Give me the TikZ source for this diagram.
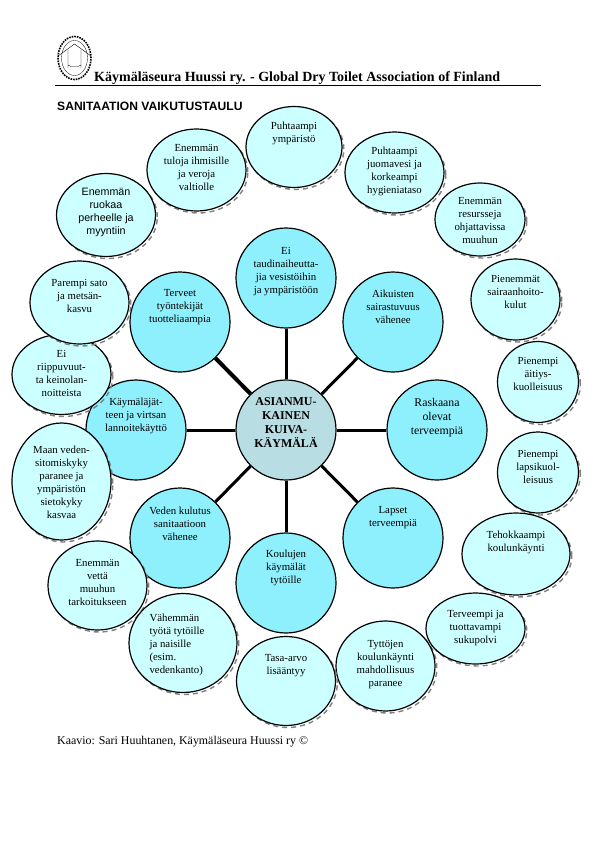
\documentclass[tikz,border=0pt]{standalone}
\usepackage{fontspec}
\setmainfont{Liberation Serif}
\setsansfont{Liberation Sans}
\usepackage{tikz}
\usetikzlibrary{positioning, shapes.geometric, shadows}
\usepackage{xcolor}
\definecolor{hubcol}{HTML}{B8DEE3}
\definecolor{innercol}{HTML}{8FF0FD}
\definecolor{outercol}{HTML}{CCFFFF}
\tikzset{
  inner/.style={circle, draw, line width=1.2pt, fill=innercol, minimum size=100pt, inner sep=0pt},
  outer/.style={ellipse, draw, line width=1.2pt, fill=outercol, inner sep=0pt,
    general shadow={shadow xshift=1.8pt, shadow yshift=-2pt, fill=none, draw=black!50, dash pattern=on 5pt off 4pt, line width=1.4pt}},
  lbl/.style={align=center, inner sep=0pt, outer sep=0pt, yshift=-2.5pt, font=\fontsize{10.8}{13}\selectfont},
  spoke/.style={line width=3pt}
}
\begin{document}
\begin{tikzpicture}[x=1pt, y=-1pt]
    \useasboundingbox (0,0) rectangle (595,842);
    % heading
    \node[ellipse, draw, line width=1.6pt, densely dotted, minimum width=33pt, minimum height=43pt, inner sep=0pt] (seal) at (74.5,58) {};
    \node[ellipse, draw, line width=.3pt, minimum width=26pt, minimum height=35pt, inner sep=0pt] (sealin) at (74.5,58) {};
    \draw[line width=.4pt] (58,56) -- (74.5,44) -- (91,56);
    \draw[line width=.4pt] (68,50) -- (68,68) (81,50) -- (81,68) (68,65) -- (71,66.5) -- (78,66.5) -- (81,65);
    \node[anchor=base west, inner sep=0pt, font=\fontsize{14}{15}\selectfont\bfseries] (head) at (94,82) {Käymäläseura Huussi ry. - Global Dry Toilet Association of Finland};
    \draw[line width=1.4pt] (55,85.5) -- (541,85.5);
    \node[anchor=base west, inner sep=0pt, font=\sffamily\fontsize{12.1}{14}\selectfont] (title) at (57,111) {\textbf{SANITAATION VAIKUTUSTAULU}};
    \node[anchor=base west, inner sep=0pt, font=\fontsize{11.9}{13}\selectfont] (credit) at (57,744) {Kaavio: Sari Huuhtanen, Käymäläseura Huussi ry ©};
    % hub and first ring
    \node[inner, fill=hubcol] (hub) at (286,430) {};
    \node[inner] (vesi) at (286,278) {};
    \node[inner] (aikuiset) at (393,322) {};
    \node[inner] (raskaana) at (437,430) {};
    \node[inner] (lapset) at (393,538) {};
    \node[inner] (koulut) at (286,583) {};
    \node[inner] (veden) at (180,538) {};
    \node[inner] (lannoite) at (136,430) {};
    \node[inner] (tyontek) at (180,322) {};
    \draw[spoke] (hub) -- (vesi);
    \draw[spoke] (hub) -- (aikuiset);
    \draw[spoke] (hub) -- (raskaana);
    \draw[spoke] (hub) -- (lapset);
    \draw[spoke] (hub) -- (koulut);
    \draw[spoke] (hub) -- (veden);
    \draw[spoke] (hub) -- (lannoite);
    \draw[spoke, line width=4pt] (hub) -- (tyontek);
    \node[lbl, below=16pt of hub.north, font=\fontsize{12}{13.9}\selectfont\bfseries] (hubt) {ASIANMU-\\KAINEN\\KUIVA-\\KÄYMÄLÄ};
    \node[lbl, below=17pt of vesi.north] (vesit) {Ei\\taudinaiheutta-\\jia vesistöihin\\ja ympäristöön};
    \node[lbl, below=16pt of aikuiset.north] (aikuisett) {Aikuisten\\sairastuvuus\\vähenee};
    \node[lbl, below=16pt of raskaana.north, font=\fontsize{11.8}{14}\selectfont] (raskaanat) {Raskaana\\olevat\\terveempiä};
    \node[lbl, below=17pt of lapset.north] (lapsett) {Lapset\\terveempiä};
    \node[lbl, below=15pt of koulut.north] (koulutt) {Koulujen\\käymälät\\tytöille};
    \node[lbl, below=17pt of veden.north] (vedent) {Veden kulutus\\sanitaatioon\\vähenee};
    \node[lbl, below=16pt of lannoite.north] (lannoitet) {Käymäläjät-\\teen ja virtsan\\lannoitekäyttö};
    \node[lbl, below=16pt of tyontek.north] (tyontekt) {Terveet\\työntekijät\\tuotteliaampia};
    % second ring
    \node[outer, minimum width=96pt, minimum height=81pt] (ymparisto) at (294,147) {};
    \node[outer, minimum width=99pt, minimum height=82pt] (tulot) at (196.5,170) {};
    \node[outer, minimum width=99pt, minimum height=83pt] (ruoka) at (106,215) {};
    \node[outer, minimum width=99pt, minimum height=81pt] (juomavesi) at (394.5,172.5) {};
    \node[outer, minimum width=90pt, minimum height=73pt] (resurssit) at (480,219.5) {};
    \node[outer, minimum width=89pt, minimum height=81pt] (hoitokulut) at (515.5,299.5) {};
    \node[outer, minimum width=81pt, minimum height=81pt] (aitiys) at (538,382) {};
    \node[outer, minimum width=81pt, minimum height=81pt] (lapsikuol) at (538,472.5) {};
    \node[outer, minimum width=108pt, minimum height=82pt] (koulunk) at (516,554) {};
    \node[outer, minimum width=99pt, minimum height=71pt] (sukupolvi) at (475.5,628.5) {};
    \node[outer, minimum width=99pt, minimum height=90pt] (tytot) at (385.5,666) {};
    \node[outer, minimum width=99pt, minimum height=89pt] (tasaarvo) at (286,681) {};
    \node[outer, minimum width=99pt, minimum height=89pt] (vetta) at (97.5,585.5) {};
    \node[outer, minimum width=108pt, minimum height=99pt] (tyovah) at (183,643) {};
    \node[outer, minimum width=99pt, minimum height=117pt] (maa) at (61.5,481.5) {};
    \node[outer, minimum width=99pt, minimum height=80pt] (riippu) at (61.5,374.5) {};
    \node[outer, minimum width=99pt, minimum height=83pt] (sato) at (79.5,302.5) {};
    \node[lbl, below=14pt of ymparisto.north] (ymparistot) {Puhtaampi\\ympäristö};
    \node[lbl, below=14pt of tulot.north] (tulott) {Enemmän\\tuloja ihmisille\\ja veroja\\valtiolle};
    \node[lbl, below=13pt of ruoka.north, font=\sffamily\fontsize{10.7}{13}\selectfont] (ruokat) {Enemmän\\ruokaa\\perheelle ja\\myyntiin};
    \node[lbl, below=13pt of juomavesi.north] (juomavesit) {Puhtaampi\\juomavesi ja\\korkeampi\\hygieniataso};
    \node[lbl, below=13pt of resurssit.north] (resurssitt) {Enemmän\\resursseja\\ohjattavissa\\muuhun};
    \node[lbl, below=14pt of hoitokulut.north] (hoitokulutt) {Pienemmät\\sairaanhoito-\\kulut};
    \node[lbl, below=14pt of aitiys.north] (aitiyst) {Pienempi\\äitiys-\\kuolleisuus};
    \node[lbl, below=16pt of lapsikuol.north] (lapsikuolt) {Pienempi\\lapsikuol-\\leisuus};
    \node[lbl, below=16pt of koulunk.north] (koulunkt) {Tehokkaampi\\koulunkäynti};
    \node[lbl, below=15pt of sukupolvi.north] (sukupolvit) {Terveempi ja\\tuottavampi\\sukupolvi};
    \node[lbl, below=17pt of tytot.north] (tytott) {Tyttöjen\\koulunkäynti\\mahdollisuus\\paranee};
    \node[lbl, below=16pt of tasaarvo.north] (tasaarvot) {Tasa-arvo\\lisääntyy};
    \node[lbl, below=17pt of vetta.north] (vettat) {Enemmän\\vettä\\muuhun\\tarkoitukseen};
    \node[lbl, below=19pt of tyovah.north, xshift=-6pt, align=left] (tyovaht) {Vähemmän\\työtä tytöille\\ja naisille\\(esim.\\vedenkanto)};
    \node[lbl, below=21pt of maa.north] (maat) {Maan veden-\\sitomiskyky\\paranee ja\\ympäristön\\sietokyky\\kasvaa};
    \node[lbl, below=14pt of riippu.north] (riipput) {Ei\\riippuvuut-\\ta keinolan-\\noitteista};
    \node[lbl, below=16pt of sato.north] (satot) {Parempi sato\\ja metsän-\\kasvu};
  \end{tikzpicture}
\end{document}
